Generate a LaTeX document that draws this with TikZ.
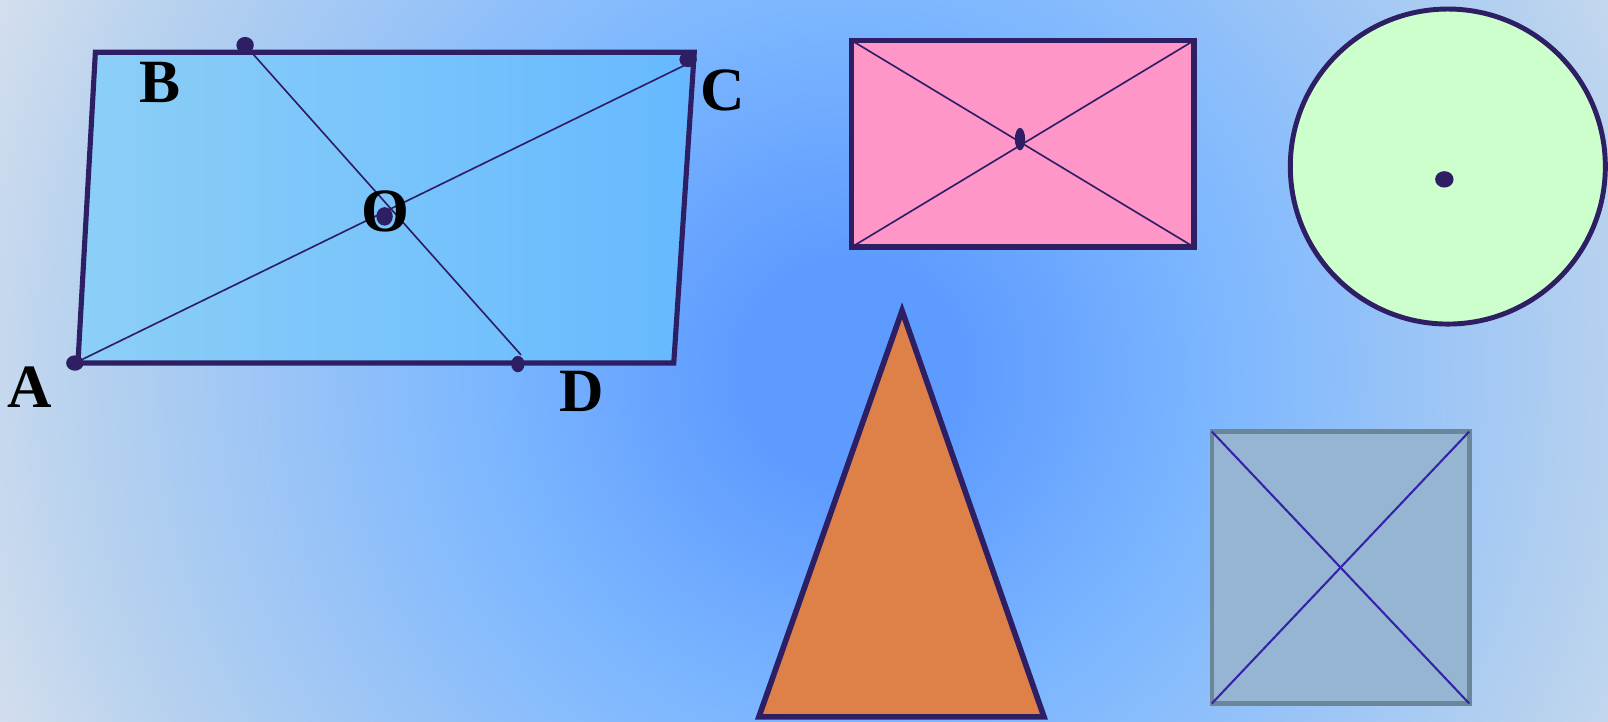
\documentclass[tikz,border=0pt]{standalone}
\usepackage{fontspec}
\setmainfont{Liberation Serif}
\definecolor{navy}{RGB}{46,30,100}
\definecolor{bgA}{RGB}{94,155,255}
\definecolor{bgB}{RGB}{125,183,255}
\definecolor{bgC}{RGB}{184,210,238}
\definecolor{bgD}{RGB}{211,222,238}
\definecolor{paraL}{RGB}{140,207,247}
\definecolor{paraR}{RGB}{102,185,255}
\definecolor{pinkfill}{RGB}{255,150,200}
\definecolor{greenfill}{RGB}{204,255,204}
\definecolor{orangefill}{RGB}{221,129,73}
\definecolor{sqfill}{RGB}{149,181,211}
\definecolor{sqedge}{RGB}{107,133,153}
\definecolor{sqdiag}{RGB}{51,34,170}
\pgfdeclareradialshading{bgshade}{\pgfpoint{0bp}{0bp}}{color(0bp)=(bgA); color(3bp)=(bgA); color(10bp)=(bgB); color(21bp)=(bgC); color(25bp)=(bgD); color(50bp)=(bgD)}
\tikzset{
  lbl/.style={font=\fontsize{60}{60}\selectfont\bfseries, inner sep=0pt, text=black},
  thickedge/.style={draw=navy, line width=5},
  thinline/.style={draw=navy, line width=1.6},
  dotfill/.style={fill=navy}
}
\begin{document}
\begin{tikzpicture}[x=1pt,y=-1pt]
\useasboundingbox (0,0) rectangle (1568,704);
\fill[bgD] (0,0) rectangle (1568,704);
\begin{scope}
\clip (0,0) rectangle (1568,704);
\shade[shading=bgshade] (830,360) circle (900);
\end{scope}

% parallelogram
\coordinate (qA) at (76,354);
\coordinate (qB) at (93,51);
\coordinate (qC) at (677,51);
\coordinate (qD) at (657,354);
\draw[thickedge, left color=paraL, right color=paraR, line join=miter] (qA) -- (qB) -- (qC) -- (qD) -- cycle;
\coordinate (dA) at (73,354);
\coordinate (dB) at (239,44);
\coordinate (dC) at (671,58);
\coordinate (dO) at (375,211);
\coordinate (dD) at (505,355);
\coordinate (eBD) at (508,346);
\coordinate (eC) at (671,62);
\draw[thinline] (dB) -- (eBD);
\draw[thinline] (dA) -- (eC);
\fill[dotfill] (dA) ellipse [x radius=8.5, y radius=7.5];
\fill[dotfill] (dB) ellipse [x radius=8.5, y radius=8];
\fill[dotfill] (dC) ellipse [x radius=8.5, y radius=7.5];
\fill[dotfill] (dO) ellipse [x radius=8, y radius=9];
\fill[dotfill] (dD) ellipse [x radius=6.5, y radius=8];
\node[lbl] (labB) at (156,80) {B};
\node[lbl] (labC) at (705,88) {C};
\node[lbl] (labO) at (376,206) {O};
\node[lbl] (labA) at (29,378) {A};
\node[lbl] (labD) at (567,382) {D};

% pink rectangle
\coordinate (r1) at (830.5,39.5);
\coordinate (r2) at (1164.3,39.5);
\coordinate (r3) at (1164.3,240.9);
\coordinate (r4) at (830.5,240.9);
\draw[draw=navy, line width=5.2, fill=pinkfill] (r1) rectangle (r3);
\draw[thinline] (r1) -- (r3);
\draw[thinline] (r4) -- (r2);
\fill[dotfill] (994.6,135.6) ellipse [x radius=5, y radius=11];

% circle
\draw[draw=navy, line width=4.8, fill=greenfill] (1411.8,162.4) circle (153.6);
\fill[dotfill] (1408.4,174.9) ellipse [x radius=9, y radius=8];

% triangle
\coordinate (t1) at (740,699);
\coordinate (t2) at (879.6,303);
\coordinate (t3) at (1018,699);
\draw[draw=navy, line width=5.5, fill=orangefill, line join=miter] (t1) -- (t2) -- (t3) -- cycle;

% square
\coordinate (s1) at (1181.7,420.8);
\coordinate (s2) at (1432.7,420.8);
\coordinate (s3) at (1432.7,686);
\coordinate (s4) at (1181.7,686);
\draw[draw=sqedge, line width=4.5, fill=sqfill] (s1) rectangle (s3);
\draw[draw=sqdiag, line width=2] (s1) -- (s3);
\draw[draw=sqdiag, line width=2] (s4) -- (s2);
\end{tikzpicture}
\end{document}
